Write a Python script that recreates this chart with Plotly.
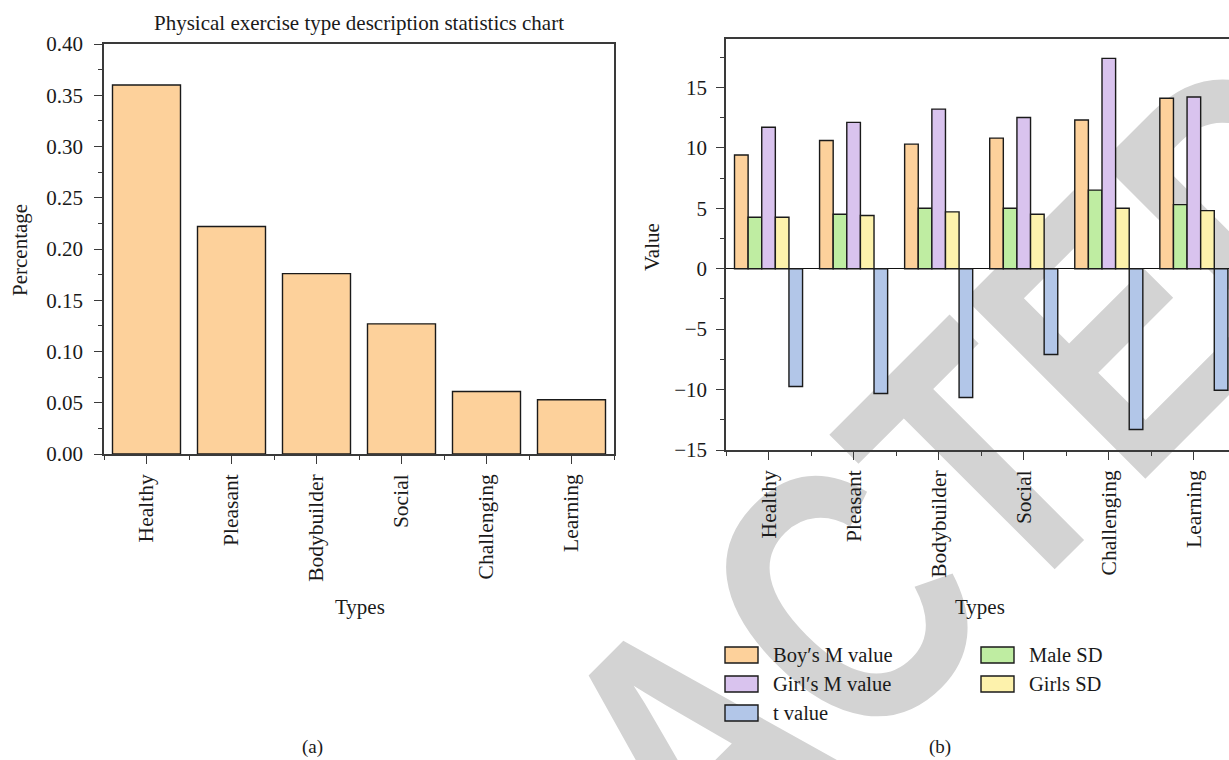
import base64
import plotly.graph_objects as go

W, H = 1229, 760

# ---- data -------------------------------------------------------------
types = ["Healthy", "Pleasant", "Bodybuilder", "Social", "Challenging", "Learning"]
percentage = [0.360, 0.222, 0.176, 0.127, 0.061, 0.053]

boys_m = [9.4, 10.6, 10.3, 10.8, 12.3, 14.1]
male_sd = [4.25, 4.5, 5.0, 5.0, 6.5, 5.3]
girls_m = [11.7, 12.1, 13.2, 12.5, 17.4, 14.2]
girls_sd = [4.25, 4.4, 4.7, 4.5, 5.0, 4.8]
t_value = [-9.75, -10.33, -10.66, -7.1, -13.3, -10.06]

series_names = ["Boy′s M value", "Male SD", "Girl′s M value", "Girls SD", "t value"]
series_values = [boys_m, male_sd, girls_m, girls_sd, t_value]
series_colors = ["#FDD19B", "#BFEDA2", "#D9C3EE", "#FDF2AC", "#B2C6E8"]

# ---- style ------------------------------------------------------------
FONT = "Liberation Serif"
TXT = "#1a1a1a"
AXC = "#3a3a3a"
EDGE = "#1a1a1a"


def px(x):
    return x / W


def py(y):
    return 1 - y / H


x_idx = list(range(len(types)))

fig = go.Figure()

# (a) percentage of each exercise type
fig.add_trace(go.Bar(
    x=x_idx, y=percentage, xaxis="x", yaxis="y",
    marker=dict(color=series_colors[0], line=dict(color=EDGE, width=1.4)),
    showlegend=False,
))

# (b) grouped statistics per type
for name, vals, col in zip(series_names, series_values, series_colors):
    fig.add_trace(go.Bar(
        x=x_idx, y=vals, name=name, xaxis="x2", yaxis="y2",
        marker=dict(color=col, line=dict(color=EDGE, width=1.4)),
        showlegend=False,
    ))

common_axis = dict(
    showline=True, linecolor=AXC, linewidth=1.5,
    showgrid=False, ticks="outside", ticklen=8, tickwidth=1.3, tickcolor=AXC,
    tickfont=dict(family=FONT, size=21, color=TXT),
    automargin=False,
)

xa_cat = dict(
    common_axis, tickvals=x_idx, ticktext=types, tickangle=-90,
    zeroline=False,
    tickfont=dict(family=FONT, size=21.5, color=TXT),
    minor=dict(ticks="outside", ticklen=4, tickwidth=1.2, tickcolor=AXC,
               tick0=0.5, dtick=1),
    ticklabelstandoff=2,
)

fig.update_layout(
    width=W, height=H,
    margin=dict(l=0, r=0, t=0, b=0, pad=0, autoexpand=False),
    paper_bgcolor="white", plot_bgcolor="rgba(0,0,0,0)",
    barmode="group", bargap=0.2, bargroupgap=0,
    xaxis=dict(xa_cat, domain=[px(104), px(614)], range=[-0.5, 5.5],
               anchor="y", mirror=True),
    yaxis=dict(common_axis, domain=[py(454), py(44)], range=[0, 0.40],
               anchor="x", mirror=True, zeroline=False,
               tickmode="linear", tick0=0, dtick=0.05, tickformat=".2f",
               ticklabelstandoff=7,
               minor=dict(ticks="outside", ticklen=4, tickwidth=1.2,
                          tickcolor=AXC, dtick=0.025)),
    xaxis2=dict(xa_cat, domain=[px(726), 1.0], range=[-0.5, 5.413],
                anchor="y2", mirror=True),
    yaxis2=dict(common_axis, domain=[py(450), py(39)], range=[-15, 19],
                anchor="x2", mirror=False,
                zeroline=True, zerolinecolor="#111111", zerolinewidth=1.2,
                tickmode="linear", tick0=-15, dtick=5,
                ticklabelstandoff=5,
                minor=dict(ticks="outside", ticklen=4, tickwidth=1.2,
                           tickcolor=AXC, dtick=2.5)),
)


def label(text, x, y, size=21, angle=0):
    fig.add_annotation(
        text=text, x=px(x), y=py(y), xref="paper", yref="paper",
        xanchor="center", yanchor="middle", showarrow=False,
        textangle=angle, font=dict(family=FONT, size=size, color=TXT),
    )


label("Physical exercise type description statistics chart", 359, 23, size=21)
label("Percentage", 20, 250, size=21, angle=-90)
label("Types", 360, 607, size=21)
label("(a)", 312, 747, size=19)
label("Value", 652, 247, size=21, angle=-90)
label("Types", 980, 607, size=21)
label("(b)", 940, 747, size=19)

# legend for panel (b), laid out in two columns
legend_slots = [(725, 655), (981, 655), (725, 684), (981, 684), (725, 713)]
for k, (lx, ly) in enumerate(legend_slots):
    fig.add_shape(
        type="rect", xref="paper", yref="paper",
        x0=px(lx), x1=px(lx + 33), y0=py(ly + 8), y1=py(ly - 8),
        fillcolor=series_colors[k], line=dict(color=EDGE, width=1.4),
    )
    fig.add_annotation(
        text=series_names[k], x=px(lx + 46), y=py(ly), xref="paper", yref="paper",
        xanchor="left", yanchor="middle", showarrow=False,
        font=dict(family=FONT, size=20.5, color=TXT),
    )

# diagonal notice stamped behind the charts (condensed bold sans)
stamp_svg = (
    f'<svg xmlns="http://www.w3.org/2000/svg" width="{W}" height="{H}" '
    f'viewBox="0 0 {W} {H}">'
    '<text x="0" y="0" text-anchor="middle" '
    'font-family="Liberation Sans, Arial, sans-serif" font-weight="bold" '
    'font-size="370" fill="#d3d3d3" '
    'transform="translate(786,838) rotate(-45) scale(0.78,1)">RETRACTED</text></svg>'
)
fig.add_layout_image(
    source="data:image/svg+xml;base64," + base64.b64encode(stamp_svg.encode()).decode(),
    xref="paper", yref="paper", x=0, y=1, sizex=1, sizey=1,
    xanchor="left", yanchor="top", sizing="stretch", layer="below",
)

fig.write_html("out.html")
